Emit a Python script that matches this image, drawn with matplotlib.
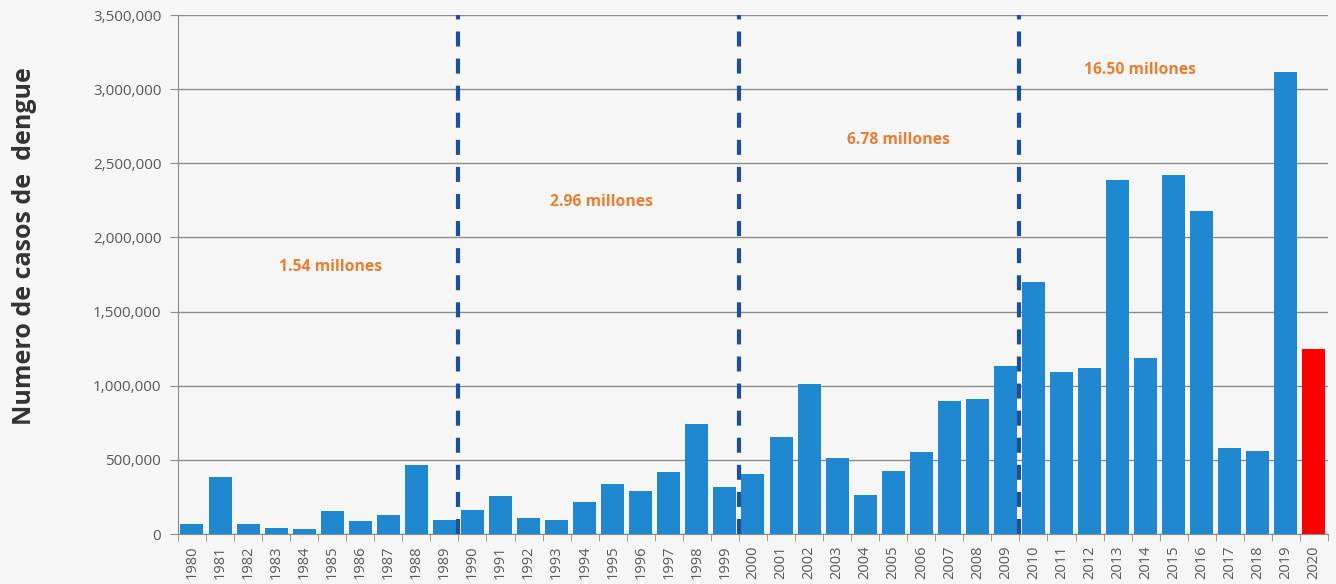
import numpy as np
import matplotlib.pyplot as plt
from matplotlib.ticker import FuncFormatter, FixedLocator

# casos de dengue por año
years = list(range(1980, 2021))
cases = [65000, 386000, 65000, 38000, 36000, 155000, 88000, 130000, 463000, 92000,
         162000, 256000, 110000, 92000, 216000, 335000, 290000, 420000, 740000, 319000,
         402000, 652000, 1013000, 515000, 265000, 427000, 551000, 897000, 908000, 1133000,
         1697000, 1095000, 1119000, 2385000, 1189000, 2419000, 2178000, 580000, 560000, 3113000,
         1250000]
decade_totals = ["1.54 millones", "2.96 millones", "6.78 millones", "16.50 millones"]
decade_label_pos = [(4.95, 1800000), (14.6, 2240000), (25.2, 2660000), (33.8, 3130000)]
decade_breaks = [9.5, 19.5, 29.5]

fig = plt.figure(figsize=(13.36, 5.84), dpi=100)
fig.patch.set_facecolor("#f6f6f6")
ax = fig.add_axes([0.1332, 0.0856, 0.8608, 0.8887])
ax.set_facecolor("none")

x = np.arange(len(years))
colors = ["#1f88d0"] * (len(years) - 1) + ["#ff0000"]
ax.bar(x, cases, width=0.82, color=colors, zorder=3)

# separadores por década
for xb in decade_breaks:
    ax.plot([xb, xb], [0, 3500000], color="#1c4f9e", lw=3,
            dashes=(3.6, 2.9), zorder=4)

for txt, (tx, ty) in zip(decade_totals, decade_label_pos):
    ax.text(tx, ty, txt, color="#ed7d31", fontsize=11.3, fontweight="bold",
            family="Open Sans", ha="center", va="center", zorder=5)

ax.set_xlim(-0.5, len(years) - 0.5)
ax.set_ylim(0, 3500000)
ax.set_yticks(np.arange(0, 3500001, 500000))
ax.yaxis.set_major_formatter(FuncFormatter(lambda v, p: f"{int(v):,}"))
ax.grid(axis="y", color="#8c8c8c", lw=1, zorder=1)

ax.set_xticks(x)
ax.set_xticklabels([str(y) for y in years], rotation=90)
ax.xaxis.set_minor_locator(FixedLocator(np.arange(-0.5, len(years), 1)))
ax.tick_params(axis="x", which="major", length=0, pad=8, labelsize=10.5,
               labelcolor="#595959")
ax.tick_params(axis="x", which="minor", length=5, color="#8c8c8c")
ax.tick_params(axis="y", length=6, color="#8c8c8c", labelsize=11,
               labelcolor="#595959", pad=6)
for lab in ax.get_xticklabels() + ax.get_yticklabels():
    lab.set_family("Open Sans")

for s in ["top", "right"]:
    ax.spines[s].set_visible(False)
ax.spines["left"].set_color("#8c8c8c")
ax.spines["bottom"].set_color("#8c8c8c")

fig.text(0.018, 0.578, "Numero de casos de  dengue", rotation=90, ha="center",
         va="center", fontsize=18, fontweight="bold", color="#333333",
         family="Open Sans")

fig.savefig("out.png", dpi=100, facecolor=fig.get_facecolor())
